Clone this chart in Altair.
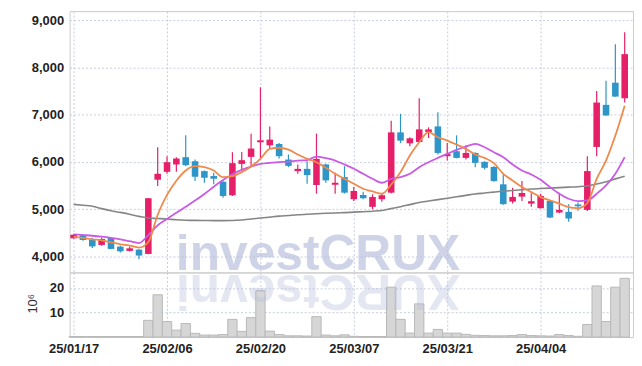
import altair as alt
import pandas as pd

dates = ["25/01/17", "25/01/20", "25/01/21", "25/01/22", "25/01/23", "25/01/24", "25/01/31",
         "25/02/03", "25/02/04", "25/02/05", "25/02/06", "25/02/07", "25/02/10", "25/02/11",
         "25/02/12", "25/02/13", "25/02/14", "25/02/17", "25/02/18", "25/02/19", "25/02/20",
         "25/02/21", "25/02/24", "25/02/25", "25/02/26", "25/02/27", "25/02/28", "25/03/04",
         "25/03/05", "25/03/06", "25/03/07", "25/03/10", "25/03/11", "25/03/12", "25/03/13",
         "25/03/14", "25/03/17", "25/03/18", "25/03/19", "25/03/20", "25/03/21", "25/03/24",
         "25/03/25", "25/03/26", "25/03/27", "25/03/28", "25/03/31", "25/04/01", "25/04/02",
         "25/04/03", "25/04/04", "25/04/07", "25/04/08", "25/04/09", "25/04/10", "25/04/11",
         "25/04/14", "25/04/15", "25/04/16", "25/04/17"]

opens = [4380, 4450, 4345, 4240, 4387, 4204, 4114, 4141, 4050, 5622,
         5790, 5946, 6100, 6015, 5805, 5700, 5580, 5293, 5958, 6106,
         6416, 6352, 6380, 6050, 5805, 5853, 5510, 5946, 5516, 5678,
         5209, 5299, 5047, 5209, 5348, 6626, 6394, 6422, 6632, 6752,
         6121, 6226, 6085, 6190, 6001, 5895, 5525, 5158, 5264, 5116,
         5019, 5173, 4927, 4941, 5095, 4983, 6317, 7209, 7679, 7349]
highs = [4470, 4472, 4390, 4400, 4400, 4225, 4204, 4150, 5235, 6310,
         6120, 6100, 6563, 6050, 5820, 5770, 5590, 6205, 6211, 6599,
         7580, 6752, 6401, 6157, 5946, 6015, 6599, 5960, 5769, 5910,
         5468, 5369, 5314, 5327, 6873, 7020, 6521, 7349, 6731, 7054,
         6401, 6563, 6352, 6205, 6015, 5910, 5735, 5453, 5594, 5335,
         5327, 5180, 5348, 5103, 5137, 6121, 7504, 7721, 8494, 8750]
lows = [4370, 4330, 4177, 4225, 4150, 4080, 4100, 3937, 4045, 5490,
        5748, 5790, 5910, 5594, 5558, 5525, 5242, 5278, 5840, 5910,
        6051, 6296, 6072, 5889, 5748, 5537, 5327, 5558, 5327, 5330,
        5173, 5209, 4998, 5158, 5330, 6401, 6331, 6410, 6506, 6157,
        6030, 6075, 6051, 5889, 5840, 5580, 5090, 5116, 5173, 5047,
        5010, 4810, 4914, 4731, 4962, 4960, 6121, 6980, 7380, 7258]
closes = [4457, 4345, 4210, 4366, 4156, 4105, 4168, 4015, 5230, 5748,
          5994, 6072, 5931, 5685, 5664, 5643, 5278, 5973, 6036, 6283,
          6458, 6472, 6121, 5916, 5853, 5720, 6064, 5609, 5558, 5348,
          5384, 5230, 5257, 5293, 6626, 6451, 6500, 6689, 6689, 6190,
          6169, 6085, 6190, 5980, 5874, 5594, 5104, 5257, 5341, 5167,
          5278, 4821, 4983, 4800, 5061, 5805, 7258, 6984, 7384, 8284]

ma5 = [4409, 4388, 4360, 4338, 4296, 4254, 4226, 4184, 4303, 4880,
       5300, 5600, 5818, 5910, 5889, 5818, 5677, 5698, 5783, 5903,
       6065, 6276, 6300, 6260, 6156, 6065, 5994, 5875, 5748, 5642,
       5537, 5431, 5374, 5325, 5520, 5783, 6135, 6417, 6630, 6522,
       6452, 6368, 6276, 6156, 6085, 5973, 5748, 5607, 5466, 5360,
       5254, 5184, 5114, 5042, 5021, 5127, 5642, 6029, 6558, 7192]
ma20 = [4465, 4450, 4435, 4415, 4390, 4360, 4320, 4280, 4450, 4655,
        4790, 4920, 5050, 5180, 5320, 5475, 5615, 5740, 5830, 5900,
        5959, 5980, 5994, 6008, 6029, 6040, 6114, 6078, 6029, 5945,
        5854, 5748, 5642, 5558, 5640, 5677, 5748, 5889, 5994, 6085,
        6170, 6255, 6325, 6382, 6311, 6205, 6100, 5945, 5818, 5734,
        5621, 5466, 5325, 5219, 5170, 5184, 5325, 5501, 5748, 6100]
ma60 = [5099, 5080, 5060, 5010, 4965, 4930, 4890, 4846, 4810, 4800,
        4790, 4775, 4765, 4760, 4758, 4755, 4755, 4758, 4770, 4790,
        4810, 4830, 4850, 4865, 4880, 4890, 4900, 4910, 4918, 4925,
        4935, 4945, 4955, 4970, 5010, 5050, 5095, 5140, 5170, 5200,
        5230, 5260, 5290, 5320, 5340, 5360, 5380, 5395, 5410, 5425,
        5435, 5445, 5455, 5465, 5475, 5490, 5530, 5580, 5640, 5695]
volume = [0.2, 0.2, 0.2, 0.2, 0.2, 0.2, 0.2, 0.2, 6.8, 17.2,
          6.3, 2.8, 5.5, 1.5, 0.8, 0.8, 1.0, 7.2, 2.3, 7.9,
          18.9, 2.4, 1.0, 0.5, 0.5, 0.4, 8.3, 0.8, 0.5, 0.9,
          0.3, 0.2, 0.2, 0.2, 20.3, 7.2, 1.6, 13.5, 1.6, 3.1,
          1.6, 1.6, 1.1, 0.7, 0.6, 0.5, 0.5, 0.6, 1.0, 0.6,
          0.5, 0.4, 1.0, 0.6, 0.3, 5.1, 20.8, 6.3, 20.3, 23.9]

price_ticks = [4000, 5000, 6000, 7000, 8000, 9000]
volume_ticks = [10, 20]
label_idx = [0, 10, 20, 30, 40, 50]
watermark = "investCRUX"

df = pd.DataFrame({
    "idx": list(range(len(dates))), "date": dates,
    "open": opens, "high": highs, "low": lows, "close": closes,
    "ma5": ma5, "ma20": ma20, "ma60": ma60, "vol": volume,
})
df["dir"] = ["up" if c >= o else "down" for o, c in zip(opens, closes)]

PINK = "#e51f68"
BLUE = "#2e95c8"
GRID = "#c8cddf"
FONT = "Liberation Sans"
LSIZE = 13
W = 567

xscale = alt.Scale(domain=[-0.43, 59.89], nice=False, zero=False, padding=0)
color = alt.Color("dir:N", scale=alt.Scale(domain=["up", "down"], range=[PINK, BLUE]), legend=None)

x_top = alt.X("idx:Q", scale=xscale, title=None,
              axis=alt.Axis(values=label_idx, labels=False, ticks=False, domain=False,
                            grid=True, gridColor=GRID, gridDash=[2, 2]))
label_expr = "[" + ",".join("'%s'" % d for d in dates) + "][datum.value]"
x_bot = alt.X("idx:Q", scale=xscale, title=None,
              axis=alt.Axis(values=label_idx, labelExpr=label_expr, ticks=False, domain=False,
                            grid=True, gridColor=GRID, gridDash=[2, 2], labelPadding=6,
                            labelFont=FONT, labelFontSize=LSIZE, labelFontWeight="bold",
                            labelColor="#222222"))

yscale = alt.Scale(domain=[3657, 9196], nice=False, zero=False, padding=0)
y_axis = alt.Axis(values=price_ticks, format=",d", ticks=False, domain=False, grid=True,
                  gridColor=GRID, gridDash=[2, 2], labelPadding=6, labelFont=FONT,
                  labelFontSize=LSIZE, labelFontWeight="bold", labelColor="#222222",
                  minExtent=56, maxExtent=56)

base = alt.Chart(df)

wm = alt.Chart(pd.DataFrame({"t": [watermark]})).mark_text(
    font="Liberation Sans", fontWeight="bold", fontSize=50, color="#b4bddc", opacity=0.65,
    align="center", baseline="alphabetic"
).encode(text="t:N", x=alt.value(250), y=alt.value(261))

wick = base.mark_rule(strokeWidth=1.2).encode(
    x=x_top, y=alt.Y("low:Q", scale=yscale, axis=y_axis, title=None), y2="high:Q", color=color)
body = base.mark_bar(size=6.6).encode(x=x_top, y=alt.Y("open:Q", scale=yscale), y2="close:Q", color=color)
l60 = base.mark_line(color="#858585", strokeWidth=1.6, interpolate="monotone").encode(
    x=x_top, y=alt.Y("ma60:Q", scale=yscale))
l20 = base.mark_line(color="#c95ae6", strokeWidth=1.8, interpolate="monotone").encode(
    x=x_top, y=alt.Y("ma20:Q", scale=yscale))
l5 = base.mark_line(color="#ef8a4c", strokeWidth=1.8, interpolate="monotone").encode(
    x=x_top, y=alt.Y("ma5:Q", scale=yscale))

price = alt.layer(wm, wick, body, l60, l20, l5).properties(width=W, height=263)

vbars = base.mark_bar(size=9.4, fill="#d6d6d6", stroke="#b8b8b8", strokeWidth=1).encode(
    x=x_bot,
    y=alt.Y("vol:Q", scale=alt.Scale(domain=[0, 26.3], nice=False, padding=0),
            axis=alt.Axis(values=volume_ticks, ticks=False, domain=False, grid=True,
                          gridColor=GRID, gridDash=[2, 2], labelPadding=6, labelFont=FONT,
                          labelFontSize=LSIZE, labelFontWeight="bold", labelColor="#222222",
                          minExtent=56, maxExtent=56, title="10⁶", titleX=-30, titleY=31,
                          titleFont=FONT, titleFontSize=13, titleFontWeight="normal",
                          titleColor="#333333")))
refl = alt.Chart(pd.DataFrame({"t": [watermark[::-1]]})).mark_text(
    font="Liberation Sans", fontWeight="bold", fontSize=50, color="#b4bddc", opacity=0.35,
    align="center", baseline="alphabetic", angle=180
).encode(text="t:N", x=alt.value(250), y=alt.value(3))

vol = alt.layer(vbars, refl).properties(width=W, height=65)

chart = alt.vconcat(price, vol, spacing=0, bounds="flush").properties(
    padding={"left": 5, "top": 1, "right": 0, "bottom": 5}
).configure_view(stroke="#cccccc").configure_axis(gridOpacity=1)

chart.save("out.html", embed_options={"renderer": "svg", "actions": False})
